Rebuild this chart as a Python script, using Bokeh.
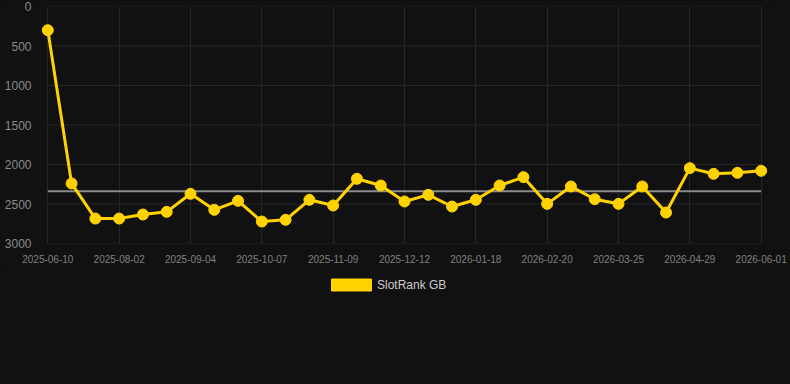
from bokeh.plotting import figure
from bokeh.layouts import column
from bokeh.models import Range1d, FixedTicker, Legend, LegendItem
from bokeh.embed import file_html
from bokeh.resources import INLINE

# ---- data ----
tick_labels = ["2025-06-10", "2025-08-02", "2025-09-04", "2025-10-07", "2025-11-09",
               "2025-12-12", "2026-01-18", "2026-02-20", "2026-03-25", "2026-04-29",
               "2026-06-01"]
rank_gb = [300, 2240, 2684, 2684, 2633, 2599, 2371, 2574, 2460, 2722, 2700,
           2447, 2519, 2181, 2266, 2468, 2384, 2532, 2447, 2266, 2160, 2498,
           2278, 2439, 2498, 2278, 2608, 2046, 2118, 2105, 2080]
avg_rank = 2340
y_ticks = [0, 500, 1000, 1500, 2000, 2500, 3000]

idx = list(range(len(rank_gb)))
tick_pos = idx[::3]

BG = "#111111"
GRID = "#262626"
YELLOW = "#FFD200"

p = figure(frame_width=730, frame_height=237, output_backend="svg", toolbar_location=None,
           x_range=Range1d(-0.35, len(rank_gb) - 1 + 0.35),
           y_range=Range1d(3000, 0),
           background_fill_color=BG, border_fill_color=BG,
           min_border_left=39, min_border_right=21, min_border_top=6,
           min_border_bottom=27)
p.outline_line_color = None
p.styles = {"background-color": BG}

p.ygrid.visible = False
p.xgrid.grid_line_color = GRID
p.xgrid.ticker = FixedTicker(ticks=tick_pos)

# horizontal grid lines spanning the data extent
p.segment(x0=[0] * len(y_ticks), x1=[len(rank_gb) - 1] * len(y_ticks),
          y0=y_ticks, y1=y_ticks, line_color=GRID, line_width=1)

p.xaxis.ticker = FixedTicker(ticks=tick_pos)
p.xaxis.major_label_overrides = {i: lab for i, lab in zip(tick_pos, tick_labels)}
p.yaxis.ticker = FixedTicker(ticks=y_ticks)

for ax in (p.xaxis[0], p.yaxis[0]):
    ax.axis_line_color = None
    ax.major_tick_line_color = None
    ax.minor_tick_line_color = None
    ax.major_label_text_font = "Liberation Sans"

p.xaxis.major_label_text_font_size = "10px"
p.xaxis.major_label_text_color = "#808080"
p.xaxis.major_label_standoff = 5
p.yaxis.major_label_text_font_size = "12px"
p.yaxis.major_label_text_color = "#8a8a8a"
p.yaxis.major_label_standoff = 2

# average line
p.line(x=[0, len(rank_gb) - 1], y=[avg_rank, avg_rank], line_color="#8c8c8c", line_width=2)

# series
p.line(x=idx, y=rank_gb, line_color=YELLOW, line_width=3)
p.scatter(x=idx, y=rank_gb, size=11, fill_color=YELLOW, line_color=YELLOW)

# legend strip below the chart
lg = figure(width=730 + 39 + 21, height=114, output_backend="svg", toolbar_location=None,
            x_range=Range1d(0, 1), y_range=Range1d(0, 1),
            x_axis_type=None, y_axis_type=None,
            background_fill_color=BG, border_fill_color=BG, min_border=0)
lg.outline_line_color = None
lg.grid.visible = False
lg.styles = {"background-color": BG}

nan = float("nan")
swatch = lg.quad(left=[nan], right=[nan], top=[nan], bottom=[nan],
                 fill_color=YELLOW, line_color=YELLOW)

legend = Legend(items=[LegendItem(label="SlotRank GB", renderers=[swatch])],
                orientation="horizontal", location=(287, 92),
                background_fill_alpha=0, border_line_color=None,
                glyph_width=50, glyph_height=15, label_text_font="Liberation Sans",
                label_text_font_size="12px", label_text_color="#cccccc",
                margin=0, padding=0, label_standoff=1, label_height=12)
lg.add_layout(legend, "center")

layout = column(p, lg, spacing=0, styles={"background-color": BG})
open("out.html", "w").write(file_html(layout, INLINE))
